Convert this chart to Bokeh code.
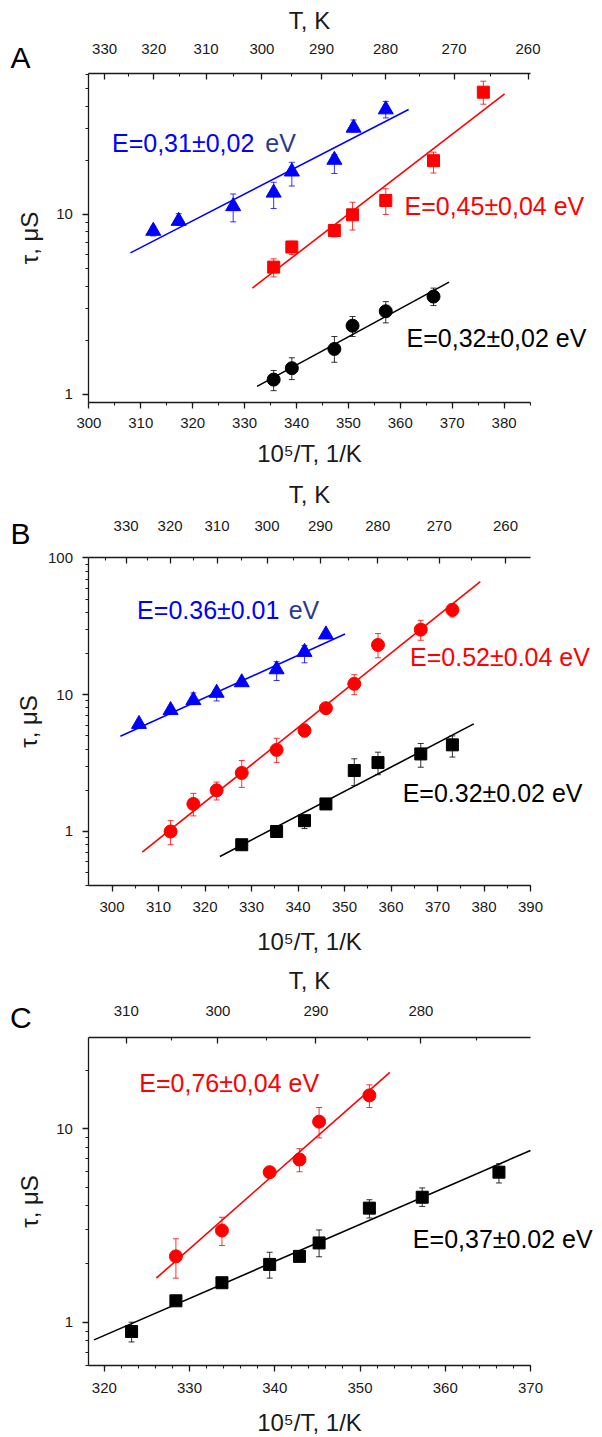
from bokeh.plotting import figure
from bokeh.models import (Range1d, LinearAxis, FixedTicker, SingleIntervalTicker,
                          CustomJSTickFormatter, Label, Whisker, TeeHead, ColumnDataSource)
from bokeh.layouts import column
from bokeh.embed import file_html
from bokeh.resources import INLINE

FONT = "Liberation Sans"
BLUE = "#0000ff"
NAVY = "#2b3990"
RED = "#ff0000"
BLACK = "#000000"

# ---------------- Panel A data ----------------
A_blue_x = [312.4, 317.3, 327.8, 335.6, 339.1, 347.3, 351.0, 357.2]
A_blue_y = [8.1, 9.2, 11.1, 13.2, 17.3, 20.1, 30.3, 38.3]
A_blue_hi = [8.6, 10.1, 13.0, 15.1, 19.5, 21.5, 33.5, 42.5]
A_blue_lo = [7.6, 8.7, 9.1, 10.8, 14.4, 16.9, 28.7, 34.4]
A_blue_fit_x = [308.0, 361.6]
A_blue_fit_y = [6.12, 38.3]

A_red_x = [335.6, 339.1, 347.3, 350.8, 357.2, 366.4, 376.0]
A_red_y = [5.1, 6.6, 8.15, 9.96, 11.96, 19.9, 47.8]
A_red_hi = [5.67, 7.1, 8.5, 11.7, 13.9, 22.2, 55.0]
A_red_lo = [4.5, 6.0, 7.5, 8.2, 10.0, 17.0, 41.0]
A_red_fit_x = [331.5, 380.1]
A_red_fit_y = [3.9, 46.8]

A_black_x = [335.6, 339.1, 347.3, 350.8, 357.2, 366.4]
A_black_y = [1.21, 1.40, 1.79, 2.41, 2.90, 3.50]
A_black_hi = [1.36, 1.60, 2.10, 2.71, 3.28, 3.90]
A_black_lo = [1.05, 1.21, 1.51, 2.10, 2.50, 3.12]
A_black_fit_x = [332.4, 369.4]
A_black_fit_y = [1.11, 4.21]

A_T_major = [330, 320, 310, 300, 290, 280, 270, 260]
A_T_minor = [325, 315, 305, 295, 285, 275, 265]

# ---------------- Panel B data ----------------
B_blue_x = [305.8, 312.6, 317.5, 322.5, 327.9, 335.4, 341.4, 346.0]
B_blue_y = [6.1, 7.7, 9.1, 10.3, 12.3, 15.3, 20.5, 27.5]
B_blue_hi = [6.4, 8.0, 10.3, 10.9, 12.8, 17.4, 22.9, 28.5]
B_blue_lo = [5.8, 7.4, 8.5, 9.0, 11.7, 12.7, 17.1, 26.5]
B_blue_fit_x = [301.8, 350.1]
B_blue_fit_y = [4.97, 27.8]

B_red_x = [312.6, 317.5, 322.5, 327.9, 335.4, 341.4, 346.0, 352.1, 357.2, 366.4, 373.2]
B_red_y = [1.0, 1.59, 2.0, 2.68, 3.95, 5.47, 7.97, 12.0, 23.1, 29.9, 41.7]
B_red_hi = [1.2, 1.9, 2.3, 3.3, 4.8, 6.1, 8.4, 14.0, 28.0, 35.0, 46.0]
B_red_lo = [0.8, 1.3, 1.7, 2.1, 3.2, 4.9, 7.5, 10.0, 18.6, 25.0, 37.0]
B_red_fit_x = [306.5, 379.2]
B_red_fit_y = [0.706, 67.1]

B_black_x = [327.9, 335.4, 341.4, 346.0, 352.1, 357.2, 366.4, 373.2]
B_black_y = [0.80, 1.0, 1.20, 1.59, 2.79, 3.19, 3.69, 4.30]
B_black_hi = [0.84, 1.05, 1.27, 1.65, 3.4, 3.8, 4.4, 5.0]
B_black_lo = [0.76, 0.95, 1.05, 1.53, 2.17, 2.6, 2.95, 3.5]
B_black_fit_x = [323.2, 377.8]
B_black_fit_y = [0.656, 6.12]

B_T_major = [330, 320, 310, 300, 290, 280, 270, 260]
B_T_minor = [335, 325, 315, 305, 295, 285, 275, 265]

# ---------------- Panel C data ----------------
C_red_x = [328.4, 333.8, 339.4, 342.9, 345.2, 351.1]
C_red_y = [2.19, 2.98, 5.97, 6.94, 10.9, 14.9]
C_red_hi = [2.7, 3.49, 6.3, 7.9, 12.9, 16.9]
C_red_lo = [1.69, 2.49, 5.6, 6.0, 8.98, 12.9]
C_red_fit_x = [326.1, 353.5]
C_red_fit_y = [1.69, 19.6]

C_black_x = [323.2, 328.4, 333.8, 339.4, 342.9, 345.2, 351.1, 357.3, 366.3]
C_black_y = [0.895, 1.29, 1.60, 1.99, 2.19, 2.57, 3.89, 4.43, 5.97]
C_black_hi = [1.0, 1.35, 1.67, 2.3, 2.28, 3.0, 4.3, 4.95, 6.6]
C_black_lo = [0.79, 1.23, 1.53, 1.69, 2.1, 2.18, 3.46, 3.97, 5.25]
C_black_fit_x = [318.8, 370.0]
C_black_fit_y = [0.81, 7.73]

C_T_major = [310, 300, 290, 280]
C_T_minor = [305, 295, 285, 275]

LOG_MINOR = [m * 10.0 ** e for e in (-1, 0, 1) for m in range(2, 10)]


def style_axis(ax, tin, tout, min_in, min_out, lab_standoff, title_standoff):
    ax.axis_line_color = "#1a1a1a"
    ax.axis_line_width = 1.3
    ax.major_tick_line_color = "#1a1a1a"
    ax.minor_tick_line_color = "#1a1a1a"
    ax.major_tick_line_width = 1.3
    ax.minor_tick_line_width = 1.1
    ax.major_tick_in = tin
    ax.major_tick_out = tout
    ax.minor_tick_in = min_in
    ax.minor_tick_out = min_out
    ax.major_label_text_font = FONT
    ax.major_label_text_font_size = "15px"
    ax.major_label_text_color = "#1a1a1a"
    ax.major_label_standoff = lab_standoff
    ax.axis_label_text_font = FONT
    ax.axis_label_text_font_size = "24px"
    ax.axis_label_text_font_style = "normal"
    ax.axis_label_text_color = "#1a1a1a"
    ax.axis_label_standoff = title_standoff


def make_panel(height, xr, yr, xb, yb, y_ticks, minor_n, T_major, T_minor, std):
    # the frame fills the whole canvas; axes sit at fixed data locations
    p = figure(frame_width=602, frame_height=height, x_range=Range1d(*xr),
               y_range=Range1d(*yr), y_axis_type="log", output_backend="svg",
               toolbar_location=None, min_border=0,
               background_fill_color="white", border_fill_color="white")
    p.outline_line_color = None
    p.xgrid.visible = False
    p.ygrid.visible = False
    xb_ax = p.xaxis[0]
    xb_ax.ticker = SingleIntervalTicker(interval=10, num_minor_ticks=minor_n)
    xb_ax.axis_label = "10\u2075/T, 1/K"
    xb_ax.fixed_location = yb[0]
    xb_ax.bounds = xb
    style_axis(xb_ax, 0, 6, 0, 3, std["bl"], std["bt"])
    yl = p.yaxis[0]
    yl.ticker = FixedTicker(ticks=y_ticks,
                            minor_ticks=[t for t in LOG_MINOR if yb[0] <= t <= yb[1]])
    yl.formatter = CustomJSTickFormatter(code="return String(tick);")
    yl.axis_label = "\u03c4, \u03bcS"
    yl.fixed_location = xb[0]
    yl.bounds = yb
    style_axis(yl, 0, 6, 0, 3, 10, std["lt"])
    xt = LinearAxis(axis_label="T, K",
                    ticker=FixedTicker(ticks=[1e5 / t for t in T_major],
                                       minor_ticks=[1e5 / t for t in T_minor]),
                    formatter=CustomJSTickFormatter(code="return Math.round(100000/tick).toFixed(0);"),
                    fixed_location=yb[1], bounds=xb)
    style_axis(xt, 6, 0, 3, 0, std["tl"], std["tt"])
    p.add_layout(xt, "above")
    return p


def series(p, x, y, hi, lo, fx, fy, color, marker, size):
    src = ColumnDataSource(dict(x=x, y=y, hi=hi, lo=lo))
    w = Whisker(source=src, base="x", upper="hi", lower="lo", dimension="height",
                line_color=color, line_width=1, line_alpha=0.8,
                upper_head=TeeHead(size=6, line_color=color, line_width=1, line_alpha=0.8),
                lower_head=TeeHead(size=6, line_color=color, line_width=1, line_alpha=0.8))
    p.add_layout(w)
    p.line(fx, fy, line_color=color, line_width=1.6)
    p.scatter("x", "y", source=src, marker=marker, size=size, color=color)


def label(p, x, y, text, color, size="25px", align="left"):
    p.add_layout(Label(x=x, y=y, text=text, text_color=color, text_font=FONT,
                       text_font_size=size, text_align=align, text_baseline="middle"))


# ---------- A ----------
pA = make_panel(476, (282.967, 398.960), (0.35028, 154.48), (300, 385.1), (0.903, 60.7),
                [1, 10], 2, A_T_major, A_T_minor,
                dict(bl=10, bt=8, lt=10, tl=20, tt=7))
series(pA, A_blue_x, A_blue_y, A_blue_hi, A_blue_lo, A_blue_fit_x, A_blue_fit_y, BLUE, "triangle", 15)
series(pA, A_red_x, A_red_y, A_red_hi, A_red_lo, A_red_fit_x, A_red_fit_y, RED, "square", 12)
series(pA, A_black_x, A_black_y, A_black_hi, A_black_lo, A_black_fit_x, A_black_fit_y, BLACK, "circle", 13)
label(pA, 304.45, 25.1, "E=0,31\u00b10,02", BLUE)
label(pA, 334.0, 25.1, "eV", NAVY)
label(pA, 360.8, 11.2, "E=0,45\u00b10,04 eV", RED)
label(pA, 361.2, 2.07, "E=0,32\u00b10,02 eV", BLACK)
label(pA, 286.8, 74.5, "A", BLACK, size="30px", align="center")

# ---------- B ----------
pB = make_panel(484, (276.02, 405.48), (0.1140, 393.6), (295.05, 390), (0.4, 100),
                [1, 10, 100], 2, B_T_major, B_T_minor,
                dict(bl=10, bt=13, lt=2, tl=27, tt=10))
series(pB, B_blue_x, B_blue_y, B_blue_hi, B_blue_lo, B_blue_fit_x, B_blue_fit_y, BLUE, "triangle", 15)
series(pB, B_red_x, B_red_y, B_red_hi, B_red_lo, B_red_fit_x, B_red_fit_y, RED, "circle", 13)
series(pB, B_black_x, B_black_y, B_black_hi, B_black_lo, B_black_fit_x, B_black_fit_y, BLACK, "square", 12)
label(pB, 305.4, 41.3, "E=0.36\u00b10.01", BLUE)
label(pB, 338.0, 41.3, "eV", NAVY)
label(pB, 364.1, 18.8, "E=0.52\u00b10.04 eV", RED)
label(pB, 362.5, 1.90, "E=0.32\u00b10.02 eV", BLACK)
label(pB, 280.3, 150.7, "B", BLACK, size="30px", align="center")

# ---------- C ----------
pC = make_panel(477, (307.82, 378.45), (0.2532, 74.3), (318.2, 370), (0.597, 29.7),
                [1, 10], 5, C_T_major, C_T_minor,
                dict(bl=12, bt=12, lt=10, tl=21, tt=10))
series(pC, C_red_x, C_red_y, C_red_hi, C_red_lo, C_red_fit_x, C_red_fit_y, RED, "circle", 13)
series(pC, C_black_x, C_black_y, C_black_hi, C_black_lo, C_black_fit_x, C_black_fit_y, BLACK, "square", 12)
label(pC, 324.1, 17.2, "E=0,76\u00b10,04 eV", RED)
label(pC, 356.2, 2.68, "E=0,37\u00b10.02 eV", BLACK)
label(pC, 310.2, 37.7, "C", BLACK, size="30px", align="center")

layout = column(pA, pB, pC)
open("out.html", "w").write(file_html(layout, INLINE))
